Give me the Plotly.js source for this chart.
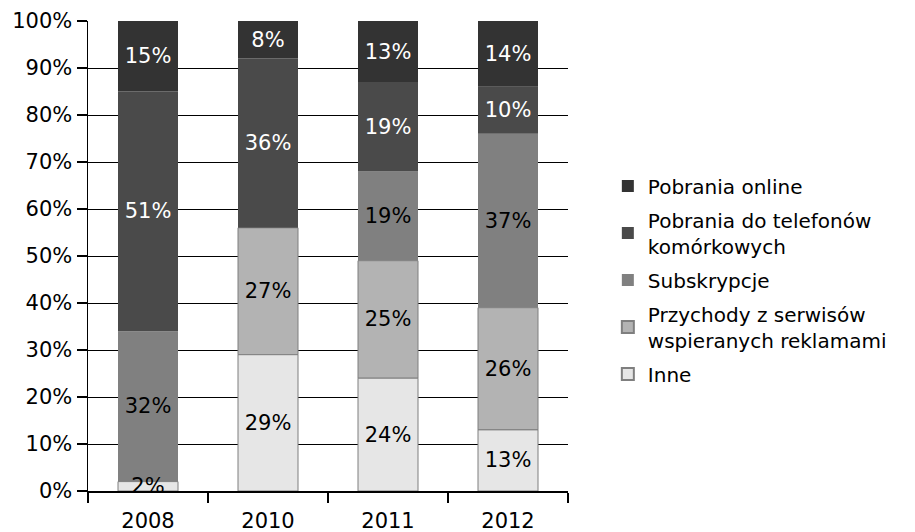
<!DOCTYPE html>
<html><head><meta charset="utf-8">
<script src="https://cdn.plot.ly/plotly-3.0.1.min.js"></script>
<style>html,body{margin:0;padding:0;background:#fff}#c{width:915px;height:532px}</style>
</head><body><div id="c"></div>
<script>
const years = ['2008','2010','2011','2012'];
const inne = [2, 29, 24, 13];
const przychody = [0, 27, 25, 26];
const subskrypcje = [32, 0, 19, 37];
const telefony = [51, 36, 19, 10];
const online = [15, 8, 13, 14];
const seriesNames = ['Inne','Przychody z serwisów<br>wspieranych reklamami','Subskrypcje','Pobrania do telefonów<br>komórkowych','Pobrania online'];
const yTickVals = [0,10,20,30,40,50,60,70,80,90,100];

const F = 'DejaVu Sans, sans-serif';
const series = [inne, przychody, subskrypcje, telefony, online];
const colors = ['#e6e6e6','#b3b3b3','#808080','#4a4a4a','#333333'];
const txtColors = ['#000','#000','#000','#fff','#fff'];
const lines = [{color:'#7f7f7f',width:1},{color:'#7f7f7f',width:1},{width:0},{width:0},{width:0}];

// cumulative bases so bars stack while drawing order can differ
const bases = series.map((s,i)=>years.map((_,j)=>{let b=0;for(let k=0;k<i;k++)b+=series[k][j];return b;}));

const traces = series.map((v,i)=>({
  type:'bar', x:years, y:v, base:bases[i], name:seriesNames[i],
  legendgroup:'g'+i, legendrank:5-i,
  marker:{color:colors[i], line:lines[i]},
  text:v.map(d=>d>0?d+'%':''), textposition:'inside', insidetextanchor:'middle',
  constraintext:'none', textangle:0, cliponaxis:false,
  insidetextfont:{family:F,size:21,color:txtColors[i]},
  hoverinfo:'none'
}));
// draw the first series last so its small label stays on top
const ordered = traces.slice(1).concat([traces[0]]);

Plotly.newPlot('c', ordered, {
  width:915, height:532, barmode:'overlay', bargap:0.5,
  margin:{l:88, r:347, t:21, b:41},
  paper_bgcolor:'#fff', plot_bgcolor:'#fff',
  font:{family:F, size:21, color:'#000'},
  xaxis:{type:'category', ticks:'outside', tickson:'boundaries', ticklen:10, tickcolor:'#000', tickwidth:1.5,
         ticklabelstandoff:10,
         showline:true, linecolor:'#000', linewidth:1.5, showgrid:false, tickfont:{family:F,size:21}},
  yaxis:{range:[0,100], tickvals:yTickVals, ticktext:yTickVals.map(v=>v+'%'), ticks:'outside', ticklen:10,
         tickcolor:'#000', tickwidth:1.5, showline:true, linecolor:'#000', linewidth:1.5,
         showgrid:true, gridcolor:'#000', gridwidth:1, zeroline:false, tickfont:{family:F,size:21}},
  legend:{x:1.083, xanchor:'left', y:0.449, yanchor:'middle', traceorder:'grouped',
          font:{family:F,size:20,color:'#000'}, tracegroupgap:5, itemsizing:'constant'},
  showlegend:true
}, {displayModeBar:false, staticPlot:true});
</script></body></html>
